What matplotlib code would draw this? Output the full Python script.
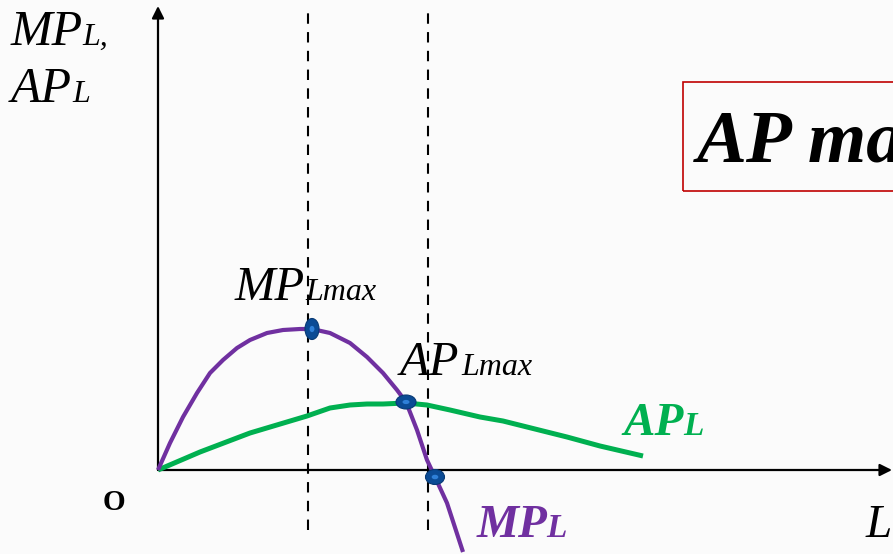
import matplotlib
matplotlib.use("Agg")
import matplotlib.pyplot as plt
from matplotlib.patches import Ellipse, Rectangle

# ---- data (labour L on x, product on y; origin of axes at (0, 0)) ----
mp_L = [0, 12, 25, 39, 52, 65, 79, 92, 109, 125, 142, 154, 172, 192, 209, 225, 239, 248, 259, 269, 277, 289, 305]
mp_val = [0, 27, 53, 77, 97, 110, 122, 130, 137, 140, 141, 141, 137, 127, 113, 97, 80, 68, 40, 10, -7, -33, -82]

ap_L = [0, 42, 92, 149, 172, 192, 209, 225, 248, 269, 292, 322, 345, 377, 409, 442, 485]
ap_val = [0, 18, 37, 54, 62, 65, 66, 66, 67, 65, 60, 53, 49, 41, 33, 24, 14]

# key points: MP max, AP max (MP = AP), MP = 0
key_L = [154, 248, 277]
key_val = [141, 68, -7]
key_w = [14, 20, 19]
key_h = [21, 14, 15]

# vertical guide lines
guide_L = [150, 270]

PURPLE = "#7030a0"
GREEN = "#00b050"
DOT = "#0b4b95"
DOT_HI = "#2f80d8"
RED = "#c00000"
SERIF = ["Liberation Serif", "DejaVu Serif"]

fig = plt.figure(figsize=(8.93, 5.54), dpi=100)
fig.patch.set_facecolor("#fbfbfb")
ax = fig.add_axes([0, 0, 1, 1])
ax.set_facecolor("#fbfbfb")
ax.set_xlim(-158, 735)
ax.set_ylim(-84, 470)
ax.axis("off")

# guides
for g in guide_L:
    ax.plot([g, g], [-60, 465], color="black", lw=1.5, ls=(0, (5, 4)), zorder=1)

# axes with arrows
ax.annotate("", xy=(0, 464), xytext=(0, 0),
            arrowprops=dict(arrowstyle="-|>", lw=1.6, color="black", mutation_scale=18,
                            shrinkA=0, shrinkB=0), zorder=2)
ax.annotate("", xy=(734, 0), xytext=(0, 0),
            arrowprops=dict(arrowstyle="-|>", lw=1.6, color="black", mutation_scale=18,
                            shrinkA=0, shrinkB=0), zorder=2)

# curves
ax.plot(ap_L, ap_val, color=GREEN, lw=3.6, solid_capstyle="butt",
        solid_joinstyle="round", zorder=3)
ax.plot(mp_L, mp_val, color=PURPLE, lw=3.0, solid_capstyle="butt",
        solid_joinstyle="round", zorder=4)

# key dots
for xk, yk, w, h in zip(key_L, key_val, key_w, key_h):
    ax.add_patch(Ellipse((xk, yk), w, h, facecolor=DOT, edgecolor="#083a75", lw=0.8, zorder=5))
    ax.add_patch(Ellipse((xk, yk), w * 0.35, h * 0.3, facecolor=DOT_HI, edgecolor="none", zorder=6))

def txt(x, y, s, size, color="black", weight="normal", style="italic"):
    ax.text(x, y, s, fontsize=size, color=color, family=SERIF, weight=weight,
            style=style, ha="left", va="baseline", zorder=7)

# y-axis label (top-left)
txt(-147, 470 - 45, "MP", 36)
txt(-76, 470 - 45, "L,", 23)
txt(-147, 470 - 102, "AP", 36)
txt(-86, 470 - 102, "L", 23)

# MPLmax label
txt(235 - 158, 470 - 300, "MP", 35)
txt(305 - 158, 470 - 300, "Lmax", 23)

# APLmax label
txt(400 - 158, 470 - 375, "AP", 35)
txt(461 - 158, 470 - 375, "Lmax", 23)

# curve labels
txt(623 - 158, 470 - 435, "AP", 34, color=GREEN, weight="bold")
txt(683 - 158, 470 - 435, "L", 24, color=GREEN, weight="bold")
txt(477 - 158, 470 - 537, "MP", 34, color=PURPLE, weight="bold")
txt(546 - 158, 470 - 537, "L", 24, color=PURPLE, weight="bold")

# axis L and origin O
txt(866 - 158, 470 - 537, "L", 34)
txt(103 - 158, 470 - 510, "O", 21, weight="bold", style="normal")

# red boxed note (cut off at the right edge)
ax.add_patch(Rectangle((683 - 158, 470 - 191), 400, 109, facecolor="none",
                       edgecolor=RED, lw=1.2, zorder=6, clip_on=False))
txt(697 - 158, 470 - 161, "AP max", 54, weight="bold")

fig.savefig("out.png", dpi=100, facecolor=fig.get_facecolor())
